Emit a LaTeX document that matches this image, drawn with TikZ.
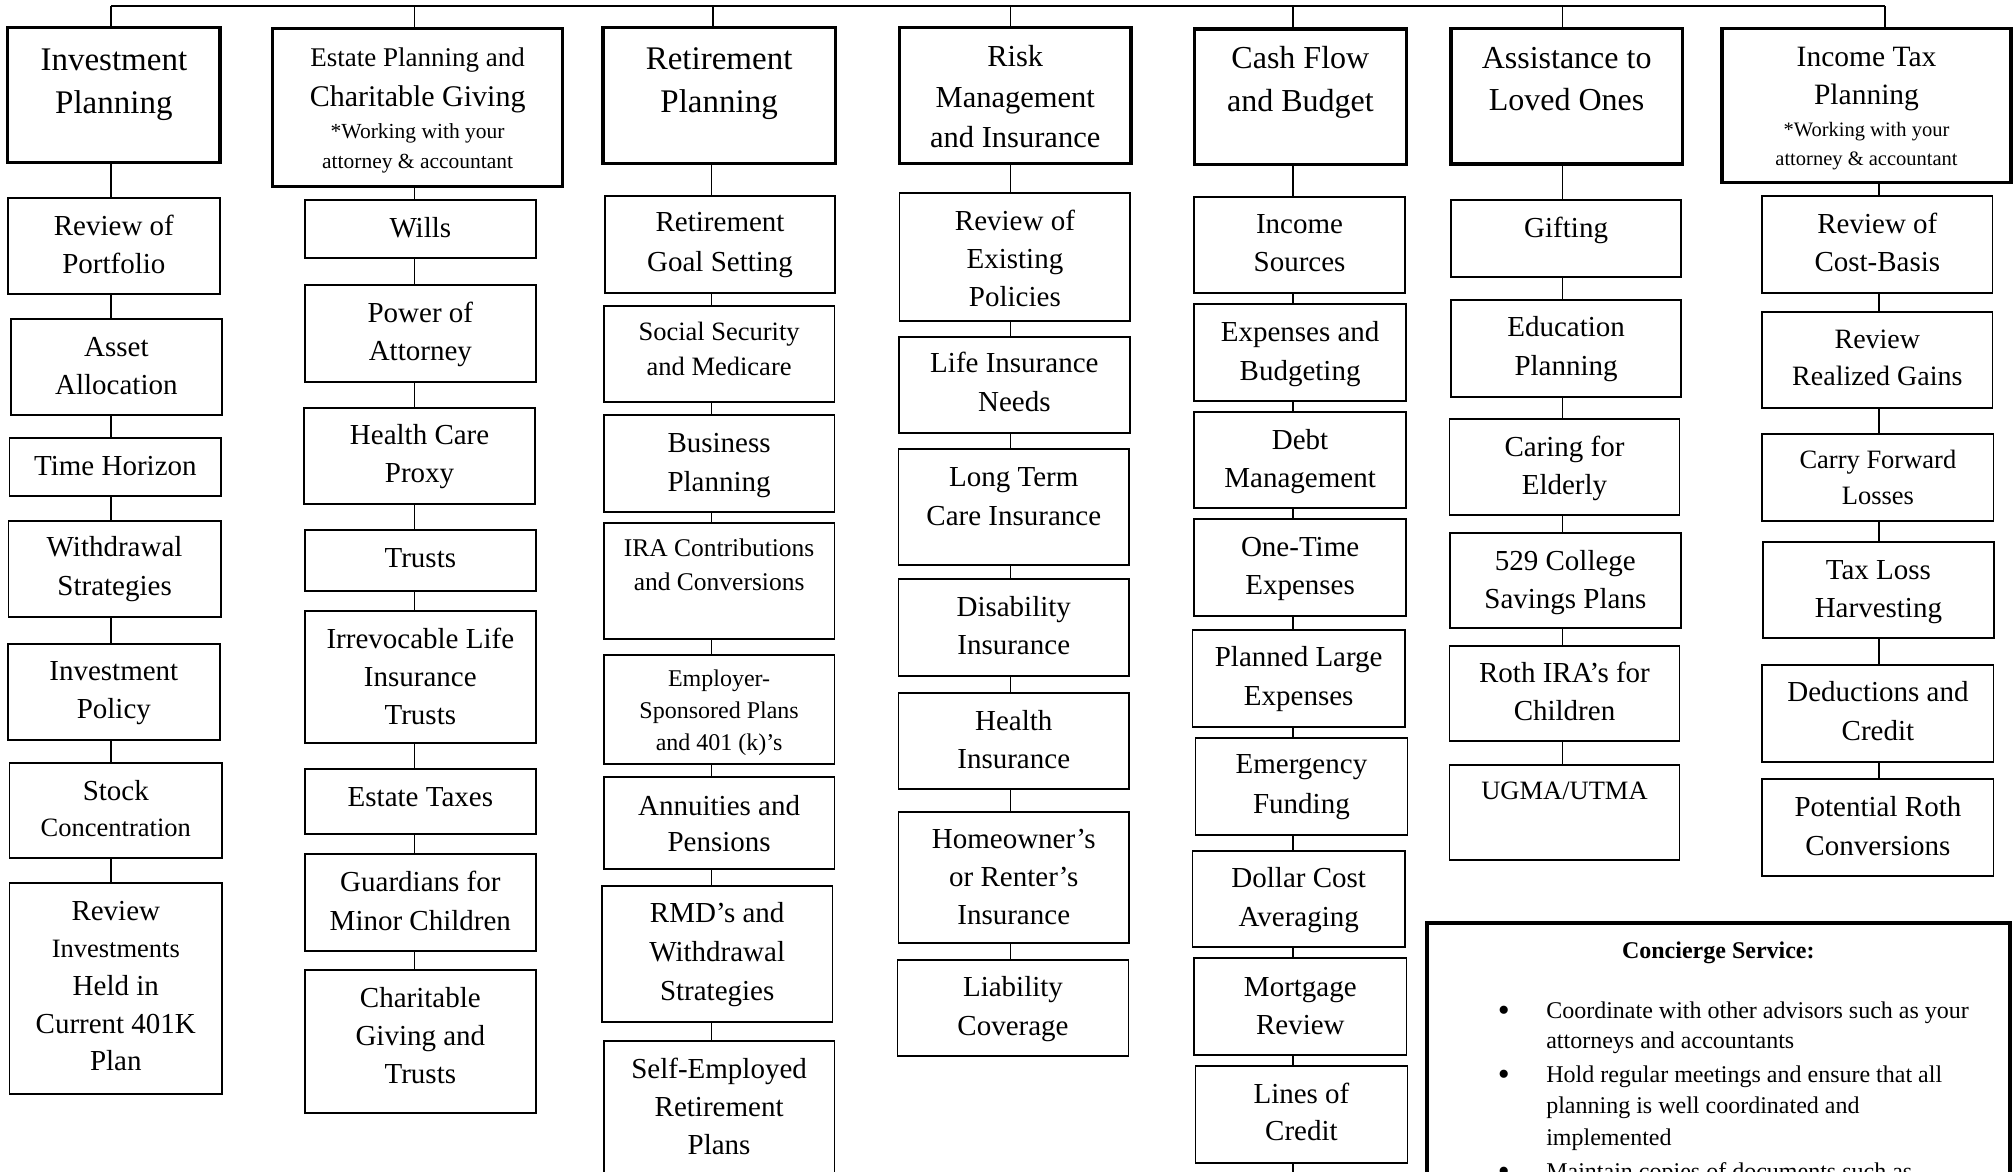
\documentclass[tikz,border=0pt]{standalone}
\usepackage{fontspec}
\setmainfont{Liberation Serif}
\tikzset{
  hdrbox/.style={draw=black, line width=3.2pt, inner sep=0pt, outer sep=0pt},
  subbox/.style={draw=black, line width=1.7pt, inner sep=0pt, outer sep=0pt},
  notebox/.style={draw=black, line width=4pt, inner sep=0pt, outer sep=0pt},
  link/.style={draw=black, line width=1.7pt},
  lbl/.style={inner sep=0pt, outer sep=0pt, align=center, anchor=base},
  bullet/.style={inner sep=0pt, outer sep=0pt, anchor=base, font=\fontsize{34}{34}\selectfont},
}
\newcommand\mkbox[6]{\node[#6, minimum width={(#4)-(#2)}, minimum height={(#5)-(#3)}] (#1) at ({((#2)+(#4))/2},{((#3)+(#5))/2}) {};}
% name, box, first baseline, size, skip, number of lines, text (node base = last line)
\newcommand\mklbl[7]{\node[lbl, font=\fontsize{#4}{#5}\selectfont] (#1) at (#2.center |- 0,{(#3)+((#6)-1)*(#5)}) {#7};}
\newcommand\conn[3]{\draw[link] (#1.south -| #3) -- (#2.north -| #3);}
\begin{document}
\begin{tikzpicture}[x=1pt,y=-1pt]
\useasboundingbox (0,0) rectangle (2013,1171);
\fill[white] (0,0) rectangle (2013,1171);
% stem coordinates
\coordinate (t1) at (111,6);
\coordinate (t2) at (414.4,6);
\coordinate (t3) at (713,6);
\coordinate (t4) at (1010.5,6);
\coordinate (t5) at (1293.3,6);
\coordinate (t6) at (1562.6,6);
\coordinate (t7) at (1885.2,6);
\coordinate (v1) at (111,0);
\coordinate (v2) at (414.4,0);
\coordinate (v3) at (711.5,0);
\coordinate (v4) at (1010.5,0);
\coordinate (v5) at (1293.3,0);
\coordinate (v6) at (1562.6,0);
\coordinate (v7) at (1879.2,0);
\coordinate (end5) at (1293.3,1185);

% ---------- Column 1 ----------
\mkbox{h1}{7.7}{27.7}{220}{162.7}{hdrbox}
\mkbox{a1}{7.7}{197.7}{220}{294}{subbox}
\mkbox{a2}{10.7}{319.3}{222}{415}{subbox}
\mkbox{a3}{9.6}{438.3}{221.2}{496}{subbox}
\mkbox{a4}{8.4}{520.7}{220.8}{617.3}{subbox}
\mkbox{a5}{7.7}{644}{220}{740}{subbox}
\mkbox{a6}{9.6}{762.7}{222}{858.3}{subbox}
\mkbox{a7}{9.6}{883.3}{222}{1094.3}{subbox}
\mklbl{h1t}{h1}{70}{33}{43.3}{2}{Investment\\Planning}
\mklbl{a1t}{a1}{235}{29}{38.3}{2}{Review of\\Portfolio}
\mklbl{a2t}{a2}{356.7}{29}{37.5}{2}{Asset\\Allocation}
\mklbl{a3t}{a3}{475}{29}{38}{1}{Time Horizon}
\mklbl{a4t}{a4}{556.7}{29}{38.3}{2}{Withdrawal\\Strategies}
\mklbl{a5t}{a5}{680}{29}{38.3}{2}{Investment\\Policy}
\mklbl{a6t}{a6}{800}{29}{36}{2}{Stock\\{\fontsize{26.5}{36}\selectfont Concentration}}
\mklbl{a7t}{a7}{920}{29}{37.7}{5}{Review\\{\fontsize{26.5}{37.7}\selectfont Investments}\\Held in\\Current 401K\\Plan}

% ---------- Column 2 ----------
\mkbox{h2}{272.8}{28.3}{562.5}{186.7}{hdrbox}
\mkbox{b1}{305}{200.3}{535.7}{258.3}{subbox}
\mkbox{b2}{305}{285}{535.7}{381.7}{subbox}
\mkbox{b3}{304.2}{407.7}{535}{504}{subbox}
\mkbox{b4}{305}{530}{535.7}{590.7}{subbox}
\mkbox{b5}{305}{610.7}{535.7}{742.7}{subbox}
\mkbox{b6}{305}{769.3}{535.7}{834}{subbox}
\mkbox{b7}{305}{854.3}{535.7}{950.7}{subbox}
\mkbox{b8}{305}{970}{535.7}{1112.7}{subbox}
\mklbl{h2t}{h2}{66.7}{30}{39.3}{2}{{\fontsize{27}{39.3}\selectfont Estate Planning and}\\Charitable Giving}
\mklbl{h2n}{h2}{138.3}{21.5}{30}{2}{*Working with your\\attorney \& accountant}
\mklbl{b1t}{b1}{237.3}{29}{38}{1}{Wills}
\mklbl{b2t}{b2}{322.7}{29}{37.3}{2}{Power of\\Attorney}
\mklbl{b3t}{b3}{444}{29}{38.7}{2}{Health Care\\Proxy}
\mklbl{b4t}{b4}{567.3}{29}{38}{1}{Trusts}
\mklbl{b5t}{b5}{648.3}{29}{38.3}{3}{Irrevocable Life\\Insurance\\Trusts}
\mklbl{b6t}{b6}{806.7}{29}{38}{1}{Estate Taxes}
\mklbl{b7t}{b7}{891.7}{29}{38.3}{2}{Guardians for\\Minor Children}
\mklbl{b8t}{b8}{1007.3}{29}{38}{3}{Charitable\\Giving and\\Trusts}

% ---------- Column 3 ----------
\mkbox{h3}{603}{27.7}{835.2}{163.3}{hdrbox}
\mkbox{d1}{604.9}{196}{835.2}{292.7}{subbox}
\mkbox{d2}{603.7}{305.7}{834.5}{401.7}{subbox}
\mkbox{d3}{603.7}{415}{834.5}{511.7}{subbox}
\mkbox{d4}{603.7}{523.3}{834.5}{639.3}{subbox}
\mkbox{d5}{603.7}{655}{834.5}{764.3}{subbox}
\mkbox{d6}{603.7}{777.3}{834.5}{869}{subbox}
\mkbox{d7}{601.8}{885.7}{832.6}{1021.7}{subbox}
\mkbox{d8}{603.7}{1041}{834.5}{1195}{subbox}
\mklbl{h3t}{h3}{69.3}{33}{43.4}{2}{Retirement\\Planning}
\mklbl{d1t}{d1}{231.7}{29}{40}{2}{Retirement\\Goal Setting}
\mklbl{d2t}{d2}{340.7}{26.5}{34.3}{2}{Social Security\\and Medicare}
\mklbl{d3t}{d3}{452.7}{29}{39}{2}{Business\\Planning}
\mklbl{d4t}{d4}{556.7}{25.5}{34}{2}{IRA Contributions\\and Conversions}
\mklbl{d5t}{d5}{686.7}{24}{31.7}{3}{Employer-\\Sponsored Plans\\and 401 (k)’s}
\mklbl{d6t}{d6}{815}{29}{36.7}{2}{Annuities and\\Pensions}
\mklbl{d7t}{d7}{922.7}{29}{38.7}{3}{RMD’s and\\Withdrawal\\Strategies}
\mklbl{d8t}{d8}{1078.3}{29}{38.3}{3}{Self-Employed\\Retirement\\Plans}

% ---------- Column 4 ----------
\mkbox{h4}{899.5}{27.7}{1131}{163.3}{hdrbox}
\mkbox{e1}{899.5}{192.7}{1130.3}{320.7}{subbox}
\mkbox{e2}{898.8}{336.7}{1129.9}{432.7}{subbox}
\mkbox{e3}{898.4}{449.3}{1129.1}{565}{subbox}
\mkbox{e4}{898.4}{579}{1129.1}{675.7}{subbox}
\mkbox{e5}{898.4}{693.3}{1129.1}{789}{subbox}
\mkbox{e6}{898.4}{811.7}{1129.1}{943.3}{subbox}
\mkbox{e7}{897.6}{960}{1128.4}{1056}{subbox}
\mklbl{h4t}{h4}{66.7}{30.5}{40.3}{3}{Risk\\Management\\and Insurance}
\mklbl{e1t}{e1}{230}{29}{38.3}{3}{Review of\\Existing\\Policies}
\mklbl{e2t}{e2}{372.7}{29}{39}{2}{Life Insurance\\Needs}
\mklbl{e3t}{e3}{486.7}{29}{38.3}{2}{Long Term\\Care Insurance}
\mklbl{e4t}{e4}{616}{29}{38}{2}{Disability\\Insurance}
\mklbl{e5t}{e5}{730}{29}{38.3}{2}{Health\\Insurance}
\mklbl{e6t}{e6}{848.3}{29}{38.3}{3}{Homeowner’s\\or Renter’s\\Insurance}
\mklbl{e7t}{e7}{996.7}{29}{38.3}{2}{Liability\\Coverage}

% ---------- Column 5 ----------
\mkbox{h5}{1194.3}{29}{1406.4}{164.3}{hdrbox}
\mkbox{f1}{1194.3}{196.7}{1404.8}{292.7}{subbox}
\mkbox{f2}{1194.3}{304}{1405.9}{400.7}{subbox}
\mkbox{f3}{1194.3}{412.3}{1405.9}{508.3}{subbox}
\mkbox{f4}{1194.3}{519.3}{1405.9}{615.7}{subbox}
\mkbox{f5}{1192.6}{630}{1404.8}{726.7}{subbox}
\mkbox{f6}{1195.4}{738.3}{1407.5}{835}{subbox}
\mkbox{f7}{1192.6}{850.7}{1404.8}{946.7}{subbox}
\mkbox{f8}{1194.3}{958.3}{1406.4}{1055}{subbox}
\mkbox{f9}{1195.4}{1066}{1407.5}{1162.7}{subbox}
\mklbl{h5t}{h5}{68.3}{32}{43.4}{2}{Cash Flow\\and Budget}
\mklbl{f1t}{f1}{233.3}{29}{38.4}{2}{Income\\Sources}
\mklbl{f2t}{f2}{341.7}{29}{38.3}{2}{Expenses and\\Budgeting}
\mklbl{f3t}{f3}{449}{29}{38.3}{2}{Debt\\Management}
\mklbl{f4t}{f4}{556}{29}{38}{2}{One-Time\\Expenses}
\mklbl{f5t}{f5}{666.7}{29}{38.3}{2}{Planned Large\\Expenses}
\mklbl{f6t}{f6}{773.3}{29}{40}{2}{Emergency\\Funding}
\mklbl{f7t}{f7}{887.3}{29}{38.7}{2}{Dollar Cost\\Averaging}
\mklbl{f8t}{f8}{996}{29}{38}{2}{Mortgage\\Review}
\mklbl{f9t}{f9}{1103.3}{29}{37.4}{2}{Lines of\\Credit}

% ---------- Column 6 ----------
\mkbox{h6}{1451}{28.3}{1682.3}{164}{hdrbox}
\mkbox{g1}{1451}{200}{1681.2}{277.3}{subbox}
\mkbox{g2}{1451}{300}{1681.2}{396.7}{subbox}
\mkbox{g3}{1449.4}{419.3}{1679.6}{515}{subbox}
\mkbox{g4}{1450}{532.7}{1680.7}{628.3}{subbox}
\mkbox{g5}{1449.4}{645.7}{1679.6}{741}{subbox}
\mkbox{g6}{1449.4}{765}{1679.6}{860}{subbox}
\mklbl{h6t}{h6}{68.3}{32}{42.4}{2}{Assistance to\\Loved Ones}
\mklbl{g1t}{g1}{237.3}{29}{38}{1}{Gifting}
\mklbl{g2t}{g2}{336.7}{29}{38.3}{2}{Education\\Planning}
\mklbl{g3t}{g3}{456.7}{29}{37.3}{2}{Caring for\\Elderly}
\mklbl{g4t}{g4}{570}{29}{38.3}{2}{529 College\\Savings Plans}
\mklbl{g5t}{g5}{682.7}{29}{38}{2}{Roth IRA’s for\\Children}
\mklbl{g6t}{g6}{799.3}{26.5}{34}{1}{UGMA/UTMA}

% ---------- Column 7 ----------
\mkbox{h7}{1722}{28.3}{2011}{182.7}{hdrbox}
\mkbox{k1}{1762.3}{196}{1992.4}{292.7}{subbox}
\mkbox{k2}{1762.3}{312.3}{1992.4}{408.3}{subbox}
\mkbox{k3}{1762.3}{434}{1993.5}{520.7}{subbox}
\mkbox{k4}{1762.8}{542.3}{1994}{638.3}{subbox}
\mkbox{k5}{1762.3}{665}{1993.5}{761.7}{subbox}
\mkbox{k6}{1762.3}{779.3}{1993.5}{875.7}{subbox}
\mklbl{h7t}{h7}{66.7}{29.5}{37.3}{2}{Income Tax\\Planning}
\mklbl{h7n}{h7}{136.7}{20.5}{28.3}{2}{*Working with your\\attorney \& accountant}
\mklbl{k1t}{k1}{233.3}{29}{38.4}{2}{Review of\\Cost-Basis}
\mklbl{k2t}{k2}{348.3}{28}{36.7}{2}{Review\\Realized Gains}
\mklbl{k3t}{k3}{468.3}{26.5}{35.7}{2}{Carry Forward\\Losses}
\mklbl{k4t}{k4}{579.3}{29}{38}{2}{Tax Loss\\Harvesting}
\mklbl{k5t}{k5}{701.7}{29}{39}{2}{Deductions and\\Credit}
\mklbl{k6t}{k6}{816.7}{29}{38.3}{2}{Potential Roth\\Conversions}

% ---------- Concierge box ----------
\mkbox{cs}{1426.6}{922.7}{2010}{1200}{notebox}
\node[lbl, font=\fontsize{24}{30}\selectfont\bfseries] (cst) at (cs.center |- 0,958.3) {Concierge Service:};
\node[bullet] (bu1) at (1503.8,1021.3) {•};
\node[bullet] (bu2) at (1503.8,1085.7) {•};
\node[bullet] (bu3) at (1503.8,1182) {•};
\node[lbl, align=left, anchor=base west, font=\fontsize{24}{30}\selectfont] (i1) at (1546.3,1048.3) {Coordinate with other advisors such as your\\attorneys and accountants};
\node[lbl, align=left, anchor=base west, font=\fontsize{24}{31.2}\selectfont] (i2) at (1546.3,1145.1) {Hold regular meetings and ensure that all\\planning is well coordinated and\\implemented};
\node[lbl, align=left, anchor=base west, font=\fontsize{24}{30}\selectfont] (i3) at (1546.3,1179) {Maintain copies of documents such as};

% ---------- Connectors ----------
\draw[link] (t1) -- (t7);
\foreach \t/\h in {t1/h1,t2/h2,t3/h3,t4/h4,t5/h5,t6/h6,t7/h7} {\draw[link] (\t) -- (\t |- \h.north);}
\foreach \a/\b in {h1/a1,a1/a2,a2/a3,a3/a4,a4/a5,a5/a6,a6/a7} {\conn{\a}{\b}{v1}}
\foreach \a/\b in {h2/b1,b1/b2,b2/b3,b3/b4,b4/b5,b5/b6,b6/b7,b7/b8} {\conn{\a}{\b}{v2}}
\foreach \a/\b in {h3/d1,d1/d2,d2/d3,d3/d4,d4/d5,d5/d6,d6/d7,d7/d8} {\conn{\a}{\b}{v3}}
\foreach \a/\b in {h4/e1,e1/e2,e2/e3,e3/e4,e4/e5,e5/e6,e6/e7} {\conn{\a}{\b}{v4}}
\foreach \a/\b in {h5/f1,f1/f2,f2/f3,f3/f4,f4/f5,f5/f6,f6/f7,f7/f8,f8/f9} {\conn{\a}{\b}{v5}}
\foreach \a/\b in {h6/g1,g1/g2,g2/g3,g3/g4,g4/g5,g5/g6} {\conn{\a}{\b}{v6}}
\foreach \a/\b in {h7/k1,k1/k2,k2/k3,k3/k4,k4/k5,k5/k6} {\conn{\a}{\b}{v7}}
\draw[link] (f9.south -| v5) -- (end5);
\end{tikzpicture}
\end{document}
